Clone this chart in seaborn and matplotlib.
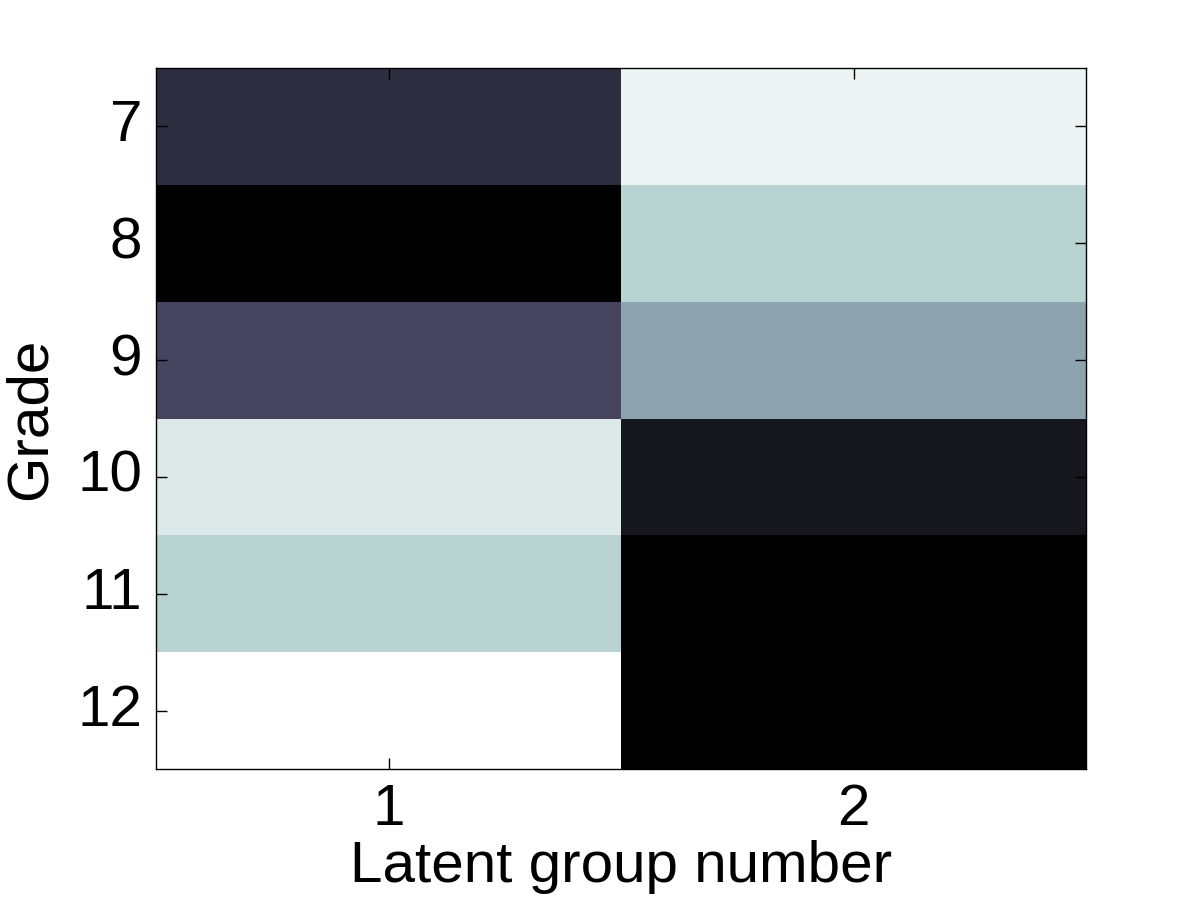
import numpy as np
import pandas as pd
import matplotlib
matplotlib.use("Agg")
import matplotlib.pyplot as plt
import seaborn as sns

grades = ["7", "8", "9", "10", "11", "12"]
groups = ["1", "2"]
group1 = [0.21, 0.0, 0.31, 0.90, 0.80, 1.0]
group2 = [0.945, 0.80, 0.63, 0.10, 0.0, 0.0]

df = pd.DataFrame({"1": group1, "2": group2}, index=grades)

plt.rcParams['font.family'] = ['Liberation Sans', 'DejaVu Sans']
fig = plt.figure(figsize=(12, 9), dpi=100)
ax = fig.add_axes([0.13, 0.1456, 0.775, 0.7788])
sns.heatmap(df, ax=ax, cmap="bone", vmin=0, vmax=1, cbar=False)

for s in ax.spines.values():
    s.set_visible(True)
    s.set_linewidth(1)
    s.set_color("black")
ax.tick_params(axis="both", direction="in", length=8, width=1, labelsize=42,
               top=True, right=True, pad=10)
ax.set_yticklabels(grades, rotation=0)
ax.set_xticklabels(groups, rotation=0)
ax.set_xlabel("Latent group number", fontsize=42, labelpad=2)
ax.set_ylabel("Grade", fontsize=42, labelpad=14)

fig.savefig("out.png", dpi=100, facecolor="white")
